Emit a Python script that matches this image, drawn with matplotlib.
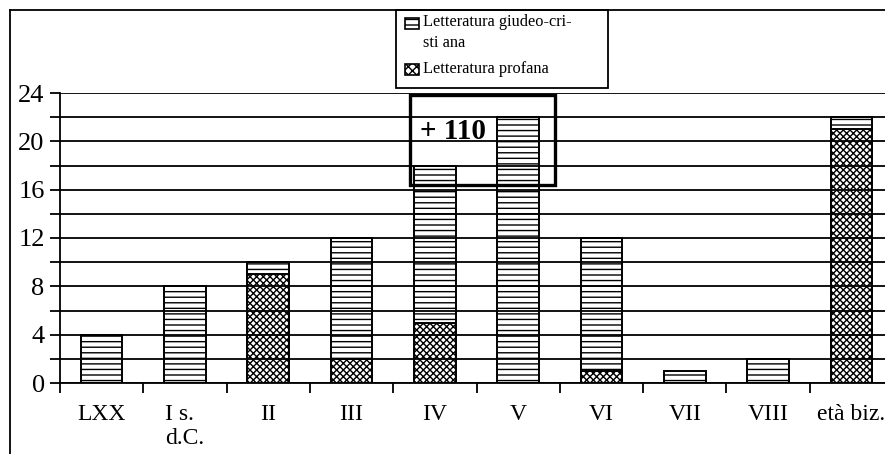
import matplotlib
matplotlib.use("Agg")
import matplotlib.pyplot as plt
from matplotlib.patches import Rectangle
from matplotlib.lines import Line2D
from matplotlib.ticker import MultipleLocator, FixedLocator

categories = ["LXX", "I s.\nd.C.", "II", "III", "IV", "V", "VI", "VII", "VIII", "età biz."]
profana = [0, 0, 9, 2, 5, 0, 1, 0, 0, 21]
giudeo_cristiana = [4, 8, 1, 10, 13, 22, 11, 1, 2, 1]
legend_labels = ["Letteratura giudeo-cri-\nsti ana", "Letteratura profana"]
annotation = "+ 110"

plt.rcParams['font.family'] = ['Liberation Serif', 'DejaVu Serif']
plt.rcParams['hatch.color'] = 'black'
plt.rcParams['hatch.linewidth'] = 1.0

W, H = 885, 454
fig = plt.figure(figsize=(W / 100, H / 100), dpi=100)
ax = fig.add_axes([60 / W, 1 - 383 / H, (893 - 60) / W, (383 - 93) / H])

x = list(range(len(categories)))
ax.bar(x, profana, width=0.5, color='white', edgecolor='black', linewidth=1.4,
       hatch='xxxxx', zorder=1)
ax.bar(x, giudeo_cristiana, bottom=profana, width=0.5, color='white',
       edgecolor='black', linewidth=1.4, hatch='---', zorder=1)

ax.set_xlim(-0.5, len(categories) - 0.5)
ax.set_ylim(0, 24)
ax.set_axisbelow(False)
ax.yaxis.set_major_locator(MultipleLocator(4))
ax.yaxis.set_minor_locator(MultipleLocator(2))
ax.yaxis.grid(True, which='both', color='black', linewidth=1.3)
ax.tick_params(axis='y', which='both', length=7, width=1.3, direction='out',
               labelsize=19, pad=4)
ax.set_xticks(x)
ax.set_xticklabels(categories, fontsize=17)
for lab in ax.get_xticklabels():
    lab.set_multialignment('left')
ax.xaxis.set_minor_locator(FixedLocator([i - 0.5 for i in range(len(categories) + 1)]))
ax.tick_params(axis='x', which='major', length=0, pad=15)
ax.tick_params(axis='x', which='minor', length=7, width=1.3, direction='out')
for s in ['top', 'right']:
    ax.spines[s].set_visible(False)
for s in ['left', 'bottom']:
    ax.spines[s].set_linewidth(1.3)

# "+110" box
ax.add_patch(Rectangle((3.7, 16.4), 5.44 - 3.7, 23.8 - 16.4, fill=False,
                       edgecolor='black', linewidth=2.4, zorder=4, clip_on=False))
ax.text(3.82, 20.8, annotation, fontsize=21, fontweight='bold', ha='left',
        va='center', zorder=5)

# outer frame
fig.add_artist(Line2D([10 / W, 10 / W], [0, 1 - 10 / H], color='black', linewidth=1.3))
fig.add_artist(Line2D([10 / W, 1], [1 - 10 / H, 1 - 10 / H], color='black', linewidth=1.3))

# legend box
fig.add_artist(Rectangle((396 / W, 1 - 88 / H), (608 - 396) / W, (88 - 10) / H,
                         transform=fig.transFigure, fill=True, facecolor='white',
                         edgecolor='black', linewidth=1.3))
fig.add_artist(Rectangle((405 / W, 1 - 29 / H), 14 / W, 11 / H, transform=fig.transFigure,
                         facecolor='white', edgecolor='black', linewidth=1.2, hatch='---'))
fig.add_artist(Rectangle((405 / W, 1 - 75 / H), 14 / W, 11 / H, transform=fig.transFigure,
                         facecolor='white', edgecolor='black', linewidth=1.2, hatch='xxxx'))
fig.text(423 / W, 1 - 14 / H, legend_labels[0], fontsize=11.8, ha='left', va='top',
         linespacing=1.45)
fig.text(423 / W, 1 - 69 / H, legend_labels[1], fontsize=11.8, ha='left', va='center')

fig.savefig("out.png", dpi=100)
